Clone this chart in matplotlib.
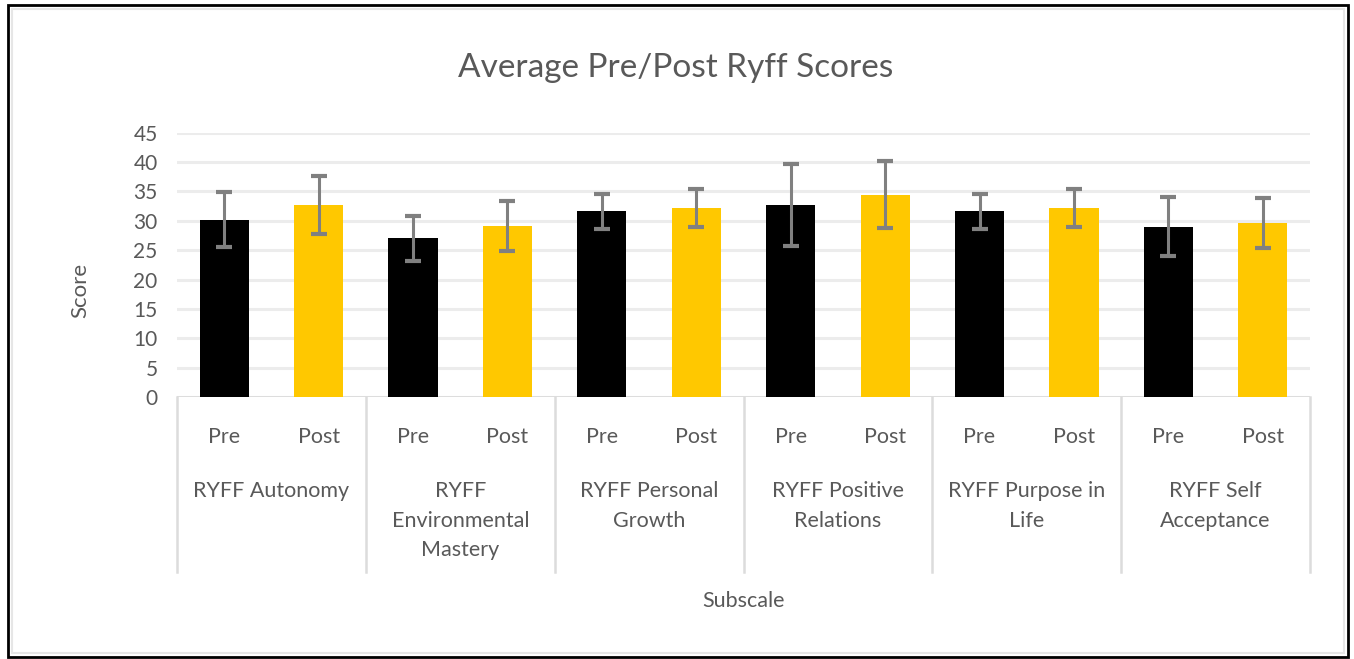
import matplotlib.pyplot as plt
from matplotlib.patches import Rectangle

# Data
subscales = ["RYFF Autonomy", "RYFF\nEnvironmental\nMastery", "RYFF Personal\nGrowth",
             "RYFF Positive\nRelations", "RYFF Purpose in\nLife", "RYFF Self\nAcceptance"]
phases = ["Pre", "Post"]
pre_mean = [30.2, 27.0, 31.6, 32.7, 31.6, 29.0]
post_mean = [32.7, 29.1, 32.2, 34.4, 32.2, 29.6]
pre_sd = [4.7, 3.9, 3.0, 7.0, 3.0, 5.0]
post_sd = [4.9, 4.25, 3.2, 5.7, 3.2, 4.3]

text_color = "#595959"
plt.rcParams['font.family'] = ['Lato', 'DejaVu Sans']

fig = plt.figure(figsize=(13.54, 6.59), dpi=100)
ax = fig.add_axes([177 / 1354, 1 - 397 / 659, 1133 / 1354, 264.3 / 659])

# bars: Pre at even slots, Post at odd slots
pre_x = [2 * i for i in range(len(subscales))]
post_x = [2 * i + 1 for i in range(len(subscales))]
err_style = dict(ecolor="#808080", elinewidth=2.2, capsize=6, capthick=3)
ax.bar(pre_x, pre_mean, width=0.52, color="black", yerr=pre_sd,
       error_kw=err_style, zorder=3)
ax.bar(post_x, post_mean, width=0.52, color="#FFC800", yerr=post_sd,
       error_kw=err_style, zorder=3)

ax.set_xlim(-0.5, 2 * len(subscales) - 0.5)
ax.set_ylim(0, 45)
ax.set_yticks(range(0, 46, 5))
ax.tick_params(axis='y', length=0, pad=14, labelsize=15, labelcolor=text_color)
ax.set_xticks([])
ax.yaxis.grid(True, color="#ececec", linewidth=2.2, zorder=0)
ax.set_axisbelow(True)
for s in ax.spines.values():
    s.set_visible(False)
ax.axhline(0, color="#dcdcdc", linewidth=2, zorder=2)

# multi-level category axis drawn below the plot
trans = ax.get_xaxis_transform()
for i in range(len(subscales) + 1):
    ax.plot([2 * i - 0.5, 2 * i - 0.5], [0, -0.662], transform=trans,
            color="#dcdcdc", linewidth=1.8, clip_on=False)
for i, name in enumerate(subscales):
    for j, ph in enumerate(phases):
        ax.text(2 * i + j, -0.151, ph, transform=trans, ha='center', va='center',
                fontsize=15.5, color=text_color)
    ax.text(2 * i + 0.5, -0.318, name, transform=trans, ha='center', va='top',
            fontsize=15.5, color=text_color, linespacing=1.6)

ax.text(5.5, -0.772, "Subscale", transform=trans, ha='center', va='center',
        fontsize=15.5, color=text_color)
fig.text(80 / 1354, 1 - 290 / 659, "Score", rotation=90, ha='center', va='center',
         fontsize=16, color=text_color)
fig.text(676 / 1354, 1 - 68 / 659, "Average Pre/Post Ryff Scores", ha='center',
         va='center', fontsize=24, color=text_color)

# outer frame
fig.patches.append(Rectangle((8 / 1354, 2 / 659), 1340 / 1354, 652 / 659,
                             transform=fig.transFigure, fill=False,
                             edgecolor="black", linewidth=2))
fig.patches.append(Rectangle((12 / 1354, 6 / 659), 1332 / 1354, 644 / 659,
                             transform=fig.transFigure, fill=False,
                             edgecolor="#e6e6e6", linewidth=1.5))

fig.savefig("out.png", dpi=100)
